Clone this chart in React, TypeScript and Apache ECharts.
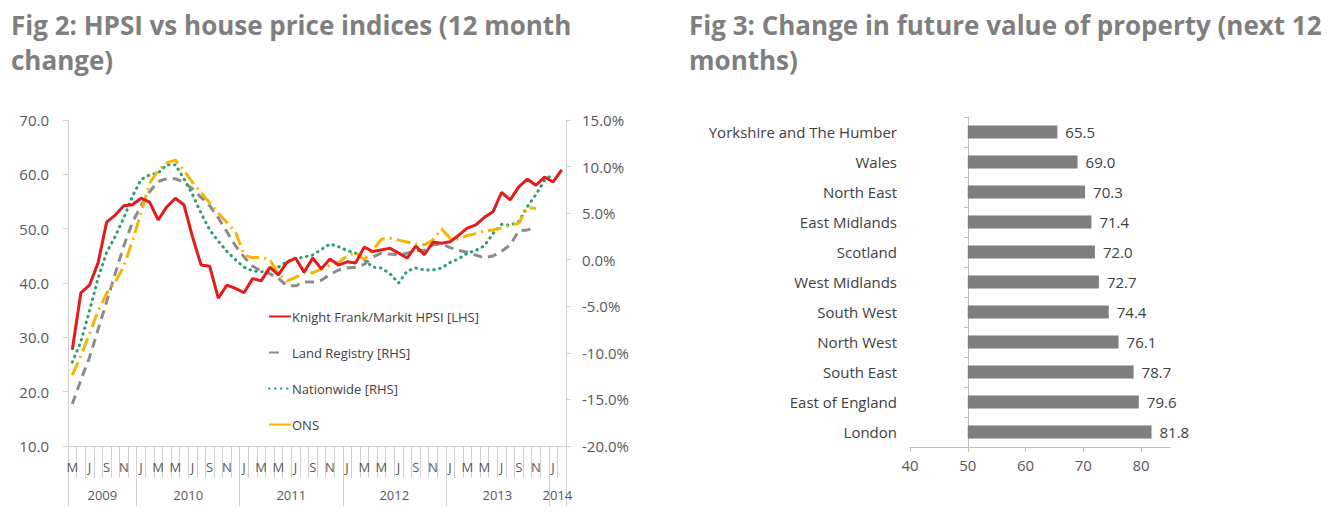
import React, { useEffect, useRef } from "react";
import * as echarts from "echarts";

// ---------- Fig 2 data ----------
const months = [
  "May 2009", "Jun 2009", "Jul 2009", "Aug 2009", "Sep 2009", "Oct 2009", "Nov 2009", "Dec 2009",
  "Jan 2010", "Feb 2010", "Mar 2010", "Apr 2010", "May 2010", "Jun 2010", "Jul 2010", "Aug 2010", "Sep 2010", "Oct 2010", "Nov 2010", "Dec 2010",
  "Jan 2011", "Feb 2011", "Mar 2011", "Apr 2011", "May 2011", "Jun 2011", "Jul 2011", "Aug 2011", "Sep 2011", "Oct 2011", "Nov 2011", "Dec 2011",
  "Jan 2012", "Feb 2012", "Mar 2012", "Apr 2012", "May 2012", "Jun 2012", "Jul 2012", "Aug 2012", "Sep 2012", "Oct 2012", "Nov 2012", "Dec 2012",
  "Jan 2013", "Feb 2013", "Mar 2013", "Apr 2013", "May 2013", "Jun 2013", "Jul 2013", "Aug 2013", "Sep 2013", "Oct 2013", "Nov 2013", "Dec 2013",
  "Jan 2014", "Feb 2014",
];
const yearStartIdx = [0, 8, 20, 32, 44, 56];
const yearLabelIdx = [4, 14, 26, 38, 50, 57];

const hpsi = [
  27.7, 38.2, 39.6, 43.7, 51.2, 52.5, 54.2, 54.4, 55.6, 54.9, 51.6, 54.0, 55.6, 54.4, 48.5, 43.3, 43.1, 37.2, 39.6, 39.0,
  38.2, 40.8, 40.4, 42.9, 41.5, 43.8, 44.6, 42.0, 44.6, 42.6, 44.4, 43.3, 43.9, 43.7, 46.6, 45.8, 46.1, 46.4, 45.5, 44.6,
  46.8, 45.2, 47.5, 47.3, 47.6, 48.8, 50.1, 50.7, 52.1, 53.1, 56.7, 55.3, 57.7, 59.1, 58.0, 59.5, 58.6, 60.8,
];
const landRegistry = [
  -15.5, -12.9, -10.5, -7.5, -4.5, -1.5, 1.5, 4.0, 5.8, 7.3, 8.4, 8.7, 8.7, 8.3, 7.6, 6.7, 5.8, 4.5, 3.0, 1.5,
  0.3, -0.7, -1.2, -1.5, -2.0, -2.8, -2.8, -2.4, -2.4, -2.2, -1.6, -1.1, -0.9, -0.8, -0.5, 0.3, 0.7, 0.6, 0.5, 0.7,
  1.0, 1.0, 1.6, 1.7, 1.3, 1.0, 0.8, 0.5, 0.2, 0.4, 0.9, 1.6, 3.1, 3.2, 3.5, null, null, null,
];
const nationwide = [
  -11.0, -8.8, -5.5, -2.0, 0.8, 2.5, 4.5, 6.8, 8.6, 9.1, 9.3, 10.2, 10.2, 8.7, 7.0, 5.0, 3.2, 2.0, 0.9, 0.0,
  -0.8, -1.2, -1.3, -1.2, -0.8, -0.2, 0.1, 0.3, 0.5, 1.1, 1.7, 1.4, 1.0, 0.7, 0.0, -0.8, -0.9, -1.5, -2.5, -1.2,
  -0.9, -1.1, -1.1, -0.9, -0.3, 0.1, 0.7, 1.0, 1.5, 2.8, 3.8, 3.7, 4.1, 5.7, 7.0, 8.5, 9.2, null,
];
const ons = [
  -12.4, -10.3, -8.0, -5.5, -3.6, -2.4, -0.7, 2.0, 5.0, 8.2, 9.6, 10.4, 10.7, 9.6, 8.3, 7.2, 6.1, 5.0, 4.0, 3.0,
  0.5, 0.2, 0.3, 0.0, -1.5, -2.3, -1.9, -1.4, -1.4, -1.0, -0.6, -0.3, 0.4, 0.8, 0.0, 1.0, 2.2, 2.3, 2.1, 1.9,
  1.7, 1.6, 2.1, 3.3, 2.3, 2.2, 2.6, 2.8, 3.1, 3.2, 3.4, 3.7, 3.9, 5.6, 5.5, null, null, null,
];

// ---------- Fig 3 data ----------
const regions = [
  "Yorkshire and The Humber", "Wales", "North East", "East Midlands", "Scotland", "West Midlands",
  "South West", "North West", "South East", "East of England", "London",
];
const regionValues = [65.5, 69.0, 70.3, 71.4, 72.0, 72.7, 74.4, 76.1, 78.7, 79.6, 81.8];
const barBase = 50;
const fig3Ticks = [40, 50, 60, 70, 80];

const FONT = "Open Sans";
const AXIS_GREY = "#d0d0d0";
const LABEL = "#595959";

const seriesNames = [
  "Knight Frank/Markit HPSI [LHS]",
  "Land Registry [RHS]",
  "Nationwide [RHS]",
  "ONS",
];

const titleStyle = { fontFamily: FONT, fontWeight: "bold", fontSize: 26, color: "#7f7f7f", lineHeight: 35 };

export default function App() {
  const ref = useRef<HTMLDivElement>(null);
  useEffect(() => {
    const chart = echarts.init(ref.current!, undefined, { renderer: "svg" });
    const option: any = {
      animation: false,
      backgroundColor: "#ffffff",
      title: [
        {
          text: "Fig 2: HPSI vs house price indices (12 month\nchange)",
          left: 11,
          top: 7,
          padding: 0,
          textStyle: titleStyle,
        },
        {
          text: "Fig 3: Change in future value of property (next 12\nmonths)",
          left: 689,
          top: 7,
          padding: 0,
          textStyle: titleStyle,
        },
      ],
      legend: {
        orient: "vertical",
        left: 268,
        top: 310,
        padding: 0,
        itemWidth: 22,
        itemHeight: 14,
        itemGap: 23,
        itemStyle: { opacity: 0 },
        textStyle: { fontFamily: FONT, fontSize: 13, color: "#404040", padding: [0, 0, 0, -4] },
        data: [
          { name: seriesNames[0], lineStyle: { type: "solid" } },
          { name: seriesNames[1], lineStyle: { type: [10, 30] } },
          { name: seriesNames[2] },
          { name: seriesNames[3], lineStyle: { type: "solid" } },
        ],
      },
      grid: [
        { left: 68, right: 771, top: 120, bottom: 85 },
        { left: 910, right: 167, top: 117, bottom: 84 },
      ],
      xAxis: [
        {
          gridIndex: 0,
          type: "category",
          data: months,
          boundaryGap: true,
          axisLine: { onZero: false, lineStyle: { color: AXIS_GREY } },
          axisTick: { show: true, interval: 0, length: 32, lineStyle: { color: AXIS_GREY } },
          axisLabel: {
            interval: 1,
            margin: 14,
            color: LABEL,
            fontFamily: FONT,
            fontSize: 13,
            formatter: (v: string) => v.charAt(0),
          },
          splitLine: { show: false },
        },
        {
          gridIndex: 0,
          type: "category",
          data: months,
          position: "bottom",
          boundaryGap: true,
          axisLine: { show: false, onZero: false },
          axisTick: {
            show: true,
            length: 60,
            interval: (i: number) => yearStartIdx.indexOf(i) >= 0,
            lineStyle: { color: AXIS_GREY },
          },
          axisLabel: {
            interval: (i: number) => yearLabelIdx.indexOf(i) >= 0,
            margin: 42,
            color: LABEL,
            fontFamily: FONT,
            fontSize: 13,
            padding: [0, 8.6, 0, 0],
            formatter: (v: string) => v.slice(-4),
          },
          splitLine: { show: false },
        },
        {
          gridIndex: 1,
          type: "value",
          min: 40,
          max: 85,
          interval: 10,
          axisLine: { show: true, onZero: false, lineStyle: { color: "#bfbfbf" } },
          axisTick: { show: true, length: 5, customValues: fig3Ticks, lineStyle: { color: "#bfbfbf" } },
          axisLabel: { customValues: fig3Ticks, margin: 10, color: LABEL, fontFamily: FONT, fontSize: 15 },
          splitLine: { show: false },
        },
      ],
      yAxis: [
        {
          gridIndex: 0,
          type: "value",
          min: 10,
          max: 70,
          interval: 10,
          axisLine: { show: true, onZero: false, lineStyle: { color: AXIS_GREY } },
          axisTick: { show: true, length: 5, lineStyle: { color: AXIS_GREY } },
          axisLabel: { margin: 19, color: LABEL, fontFamily: FONT, fontSize: 15, formatter: (v: number) => v.toFixed(1) },
          splitLine: { show: false },
        },
        {
          gridIndex: 0,
          type: "value",
          position: "right",
          min: -20,
          max: 15,
          interval: 5,
          axisLine: { show: true, onZero: false, lineStyle: { color: AXIS_GREY } },
          axisTick: { show: true, length: 5, lineStyle: { color: AXIS_GREY } },
          axisLabel: { margin: 16, color: LABEL, fontFamily: FONT, fontSize: 15, formatter: (v: number) => v.toFixed(1) + "%" },
          splitLine: { show: false },
        },
        {
          gridIndex: 1,
          type: "category",
          data: regions,
          inverse: true,
          offset: -58,
          axisLine: { show: true, onZero: false, lineStyle: { color: "#bfbfbf" } },
          axisTick: { show: true, length: 4, lineStyle: { color: "#bfbfbf" } },
          axisLabel: { margin: 71, color: "#404040", fontFamily: FONT, fontSize: 15 },
          splitLine: { show: false },
        },
      ],
      series: [
        {
          name: seriesNames[1],
          type: "line",
          xAxisIndex: 0,
          yAxisIndex: 1,
          data: landRegistry,
          symbol: "none",
          color: "#8c8c8c",
          lineStyle: { width: 3, type: [9, 6], color: "#8c8c8c" },
          z: 2,
        },
        {
          name: seriesNames[2],
          type: "line",
          xAxisIndex: 0,
          yAxisIndex: 1,
          data: nationwide,
          symbol: "none",
          color: "#2e9e68",
          lineStyle: { width: 3, type: [0.5, 5.5], cap: "round", color: "#2e9e68" },
          z: 3,
        },
        {
          name: seriesNames[3],
          type: "line",
          xAxisIndex: 0,
          yAxisIndex: 1,
          data: ons,
          symbol: "none",
          color: "#f7b500",
          lineStyle: { width: 3, type: [14, 5, 2, 5], color: "#f7b500" },
          z: 4,
        },
        {
          name: seriesNames[0],
          type: "line",
          xAxisIndex: 0,
          yAxisIndex: 0,
          data: hpsi,
          symbol: "none",
          color: "#e31b1b",
          lineStyle: { width: 3, color: "#e31b1b" },
          z: 5,
        },
        {
          name: "base",
          type: "bar",
          xAxisIndex: 2,
          yAxisIndex: 2,
          stack: "fig3",
          data: regions.map(() => barBase),
          itemStyle: { color: "rgba(0,0,0,0)" },
          silent: true,
          barWidth: 13,
        },
        {
          name: "Change in future value",
          type: "bar",
          xAxisIndex: 2,
          yAxisIndex: 2,
          stack: "fig3",
          data: regionValues.map((v) => v - barBase),
          barWidth: 13,
          itemStyle: { color: "#7f7f7f" },
          label: {
            show: true,
            position: "right",
            distance: 8,
            color: "#404040",
            fontFamily: FONT,
            fontSize: 15,
            formatter: (p: any) => regionValues[p.dataIndex].toFixed(1),
          },
        },
      ],
    };
    chart.setOption(option);
    return () => chart.dispose();
  }, []);
  return (
    <div
      ref={ref}
      style={{ position: "fixed", left: 0, top: 0, width: 1337, height: 531, background: "#ffffff" }}
    />
  );
}
